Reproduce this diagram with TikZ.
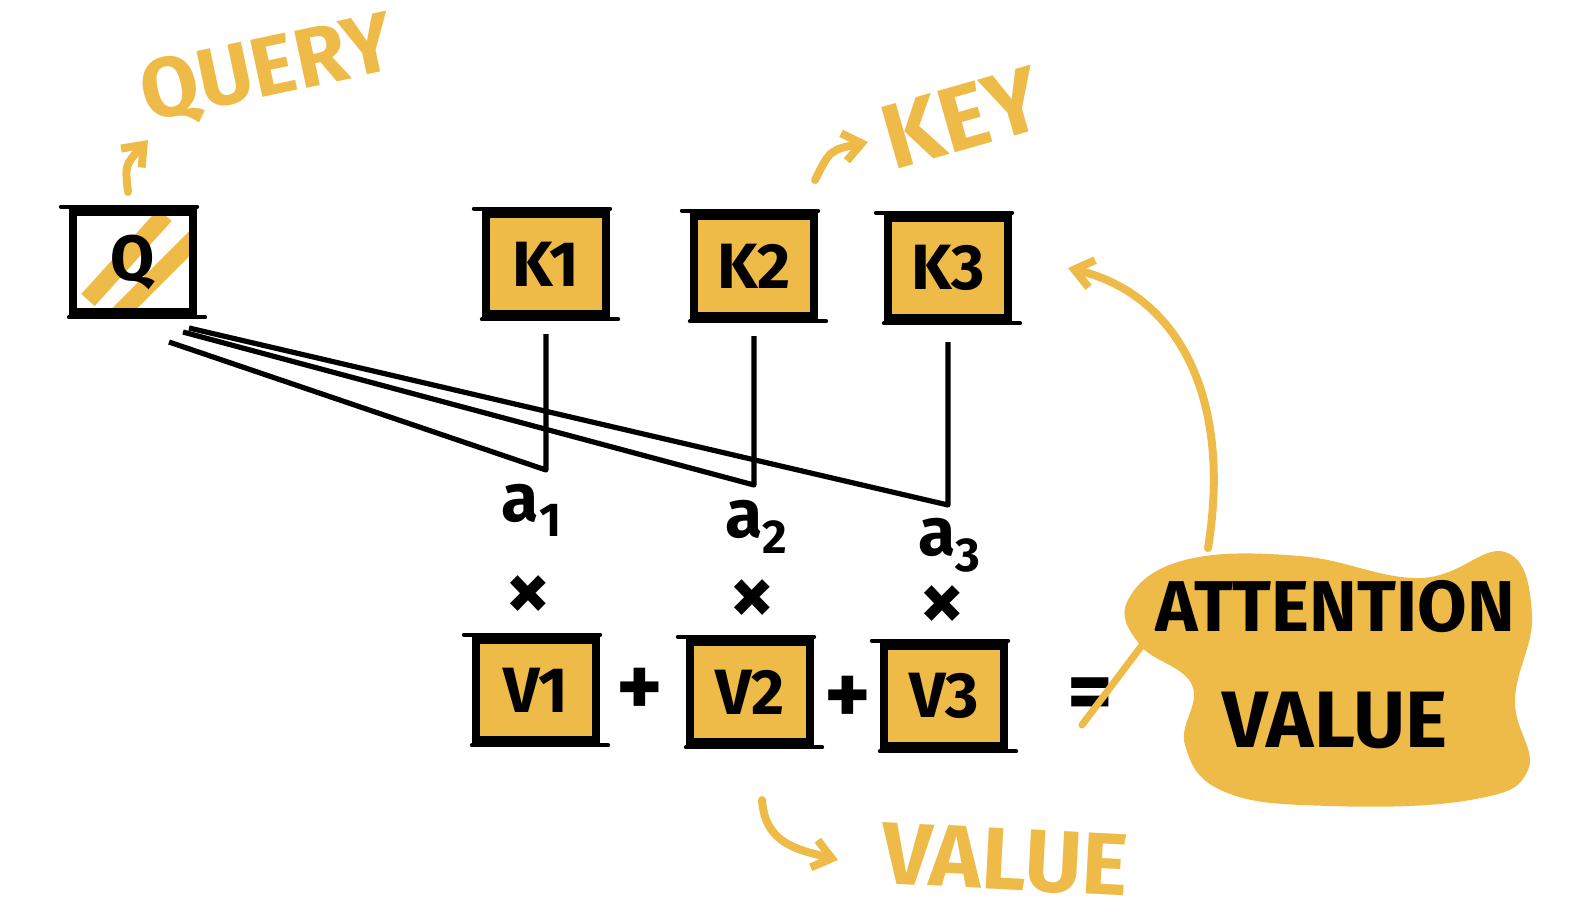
\documentclass[tikz,border=0pt]{standalone}
\usepackage{fontspec}
\setmainfont{Fira Sans}
\usetikzlibrary{arrows.meta}
\definecolor{mk}{RGB}{238,186,72}
\begin{document}
\begin{tikzpicture}[x=0.5pt,y=-0.5pt,
  box/.style={draw=black,line width=4pt,fill=mk,minimum width=60pt,minimum height=50pt,inner sep=0pt,
    font=\fontsize{32}{32}\selectfont\bfseries,
    append after command={
      ([shift={(-4pt,0.6pt)}]\tikzlastnode.north west) edge[line width=2.2pt,line cap=round] ([shift={(0pt,0.6pt)}]\tikzlastnode.north east)
      ([shift={(0pt,-0.6pt)}]\tikzlastnode.south west) edge[line width=2.2pt,line cap=round] ([shift={(4pt,-0.6pt)}]\tikzlastnode.south east)}},
  conn/.style={draw=black,line width=2.6pt,line join=round},
  lbl/.style={font=\fontsize{34}{34}\selectfont\bfseries,text=black},
  op/.style={font=\fontsize{44}{44}\selectfont\bfseries,text=black},
  ytitle/.style={font=\fontsize{42}{42}\selectfont\bfseries,text=mk},
  yarrow/.style={draw=mk,line width=4pt,line cap=round,-{Straight Barb[length=9pt,width=14pt]}}]
\useasboundingbox (0,0) rectangle (1574,923);

% Q box hatching
\begin{scope}
  \clip (70,212) rectangle (196,312);
  \draw[mk,line width=9pt] (88,300) -- (165,215);
  \draw[mk,line width=9pt] (118,315) -- (195,238);
\end{scope}
\node[box,fill=none] (Q) at (133,262) {Q};

% keys
\node[box] (K1) at (546,264) {K1};
\node[box] (K2) at (754,266) {K2};
\node[box] (K3) at (948,268) {K3};

% values
\node[box] (V1) at (536,690) {V1};
\node[box] (V2) at (750,692) {V2};
\node[box] (V3) at (944,696) {V3};

% connectors
\coordinate (j1) at (546,470);
\coordinate (j2) at (754,485);
\coordinate (j3) at (948,505);
\draw[conn] ([shift={(-14pt,-13pt)}]Q.south east) -- (j1) -- ([yshift=-8pt]K1.south);
\draw[conn] ([shift={(-7pt,-8pt)}]Q.south east) -- (j2) -- ([yshift=-8pt]K2.south);
\draw[conn] ([shift={(-4pt,-6pt)}]Q.south east) -- (j3) -- ([yshift=-10pt]K3.south);

% weights
\node[lbl] (a1) at (532,510) {a\textsubscript{1}};
\node[lbl] (a2) at (757,527) {a\textsubscript{2}};
\node[lbl] (a3) at (950,545) {a\textsubscript{3}};
\node[op] (x1) at (528,598) {×};
\node[op] (x2) at (752,602) {×};
\node[op] (x3) at (942,608) {×};
\node[op] (p1) at (640,692) {+};
\node[op] (p2) at (848,700) {+};
\node[op] (eq) at (1090,700) {=};

% attention blob
\fill[mk] plot[smooth cycle,tension=0.7] coordinates {(1128,600) (1185,560) (1300,556) (1420,578) (1505,552) (1532,615) (1515,700) (1528,770) (1470,800) (1330,806) (1225,792) (1185,745) (1192,685) (1140,645)};
\node[lbl,font=\fontsize{36}{36}\selectfont\bfseries,align=center] (att) at (1335,665) {ATTENTION\\[22pt]\fontsize{40}{40}\selectfont VALUE};
\coordinate (bt) at (1208,548);
\coordinate (bl) at (1152,632);
\draw[yarrow] (bt) .. controls (1232,400) and (1180,295) .. ([xshift=28pt]K3.east);
\draw[draw=mk,line width=3.5pt,line cap=round] (bl) -- ([shift={(-4pt,2pt)}]eq.south);

% yellow titles
\node[ytitle,rotate=12] (query) at (268,72) {QUERY};
\node[ytitle,rotate=16,font=\fontsize{46}{46}\selectfont\bfseries] (key) at (962,118) {KEY};
\node[ytitle,rotate=-3,font=\fontsize{44}{44}\selectfont\bfseries] (value) at (1005,860) {VALUE};
\coordinate (qa) at (128,192);
\coordinate (ka) at (815,180);
\coordinate (va) at (762,800);
\draw[yarrow] (qa) .. controls (125,165) .. (148,140);
\draw[yarrow] (ka) .. controls (830,150) .. (868,142);
\draw[yarrow] (va) .. controls (765,845) and (800,850) .. (838,860);
\end{tikzpicture}
\end{document}
